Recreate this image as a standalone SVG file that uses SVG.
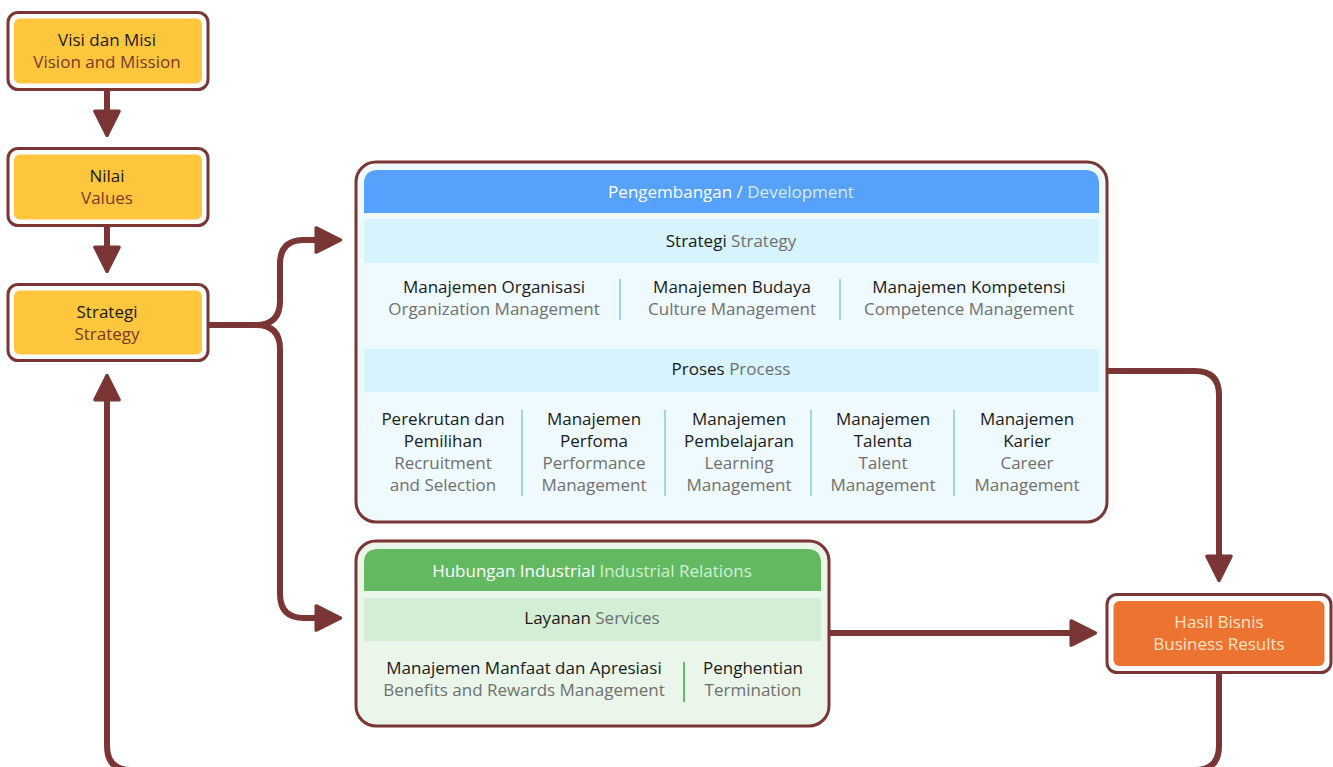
<svg xmlns="http://www.w3.org/2000/svg" width="1333" height="767" viewBox="0 0 1333 767">
<defs>
<marker id="ah" viewBox="0 0 10 10" refX="2" refY="5" markerWidth="4.6" markerHeight="4.6" orient="auto" markerUnits="strokeWidth">
<path d="M0.6,0.6 L9.4,5 L0.6,9.4 Z" fill="#7a3535" stroke="#7a3535" stroke-width="1.2" stroke-linejoin="round"/>
</marker>
<style>
text{font-family:"Open Sans","Noto Sans","Liberation Sans",sans-serif;font-size:17px;text-anchor:middle}
.k{fill:#1a1a1a}
.g{fill:#707070}
.br{fill:#7a3a2a}
.w{fill:#ffffff}
.conn{fill:none;stroke:#7a3535;stroke-width:6}
.outer{fill:#ffffff;stroke:#7a3535;stroke-width:3}
.yel{fill:#fdc63d}
.divb{stroke:#9fd4ea;stroke-width:2}
.divg{stroke:#62b962;stroke-width:2}
</style>
</defs>
<rect width="1333" height="767" fill="#ffffff"/>
<g id="connectors">
<path class="conn" d="M107,89 V115" marker-end="url(#ah)"/>
<path class="conn" d="M107,225 V251" marker-end="url(#ah)"/>
<path class="conn" d="M208,325 H256 Q280,325 280,301 V264 Q280,240 304,240 H320" marker-end="url(#ah)"/>
<path class="conn" d="M256,325 Q280,325 280,349 V594 Q280,618 304,618 H320" marker-end="url(#ah)"/>
<path class="conn" d="M1108,371 H1195 Q1219,371 1219,395 V560" marker-end="url(#ah)"/>
<path class="conn" d="M830,633 H1075" marker-end="url(#ah)"/>
<path class="conn" d="M1219,672 V746 Q1219,770 1195,770 H131 Q107,770 107,746 V396" marker-end="url(#ah)"/>
</g>
<g id="visi">
<rect class="outer" x="8" y="12.5" width="200" height="77" rx="10"/>
<rect class="yel" x="14" y="18.5" width="188" height="65" rx="6"/>
<text x="107" y="46" class="k">Visi dan Misi</text>
<text x="107" y="68" class="br">Vision and Mission</text>
</g>
<g id="nilai">
<rect class="outer" x="8" y="148.5" width="200" height="77" rx="10"/>
<rect class="yel" x="14" y="154.5" width="188" height="65" rx="6"/>
<text x="107" y="182" class="k">Nilai</text>
<text x="107" y="204" class="br">Values</text>
</g>
<g id="strategi">
<rect class="outer" x="8" y="284.5" width="200" height="76" rx="10"/>
<rect class="yel" x="14" y="290.5" width="188" height="64" rx="6"/>
<text x="107" y="318" class="k">Strategi</text>
<text x="107" y="340" class="br">Strategy</text>
</g>
<g id="development">
<rect x="356" y="162" width="751" height="360" rx="20" fill="#effafe" stroke="#7a3535" stroke-width="3"/>
<path d="M364,213 V184 Q364,170 378,170 H1085 Q1099,170 1099,184 V213 Z" fill="#55a1fb"/>
<text x="731" y="198"><tspan class="w">Pengembangan / </tspan><tspan fill="#d6ebff">Development</tspan></text>
<rect x="364" y="219" width="735" height="44" fill="#d7f3fd"/>
<text x="731" y="247"><tspan class="k">Strategi </tspan><tspan class="g">Strategy</tspan></text>
<text x="494" y="293" class="k">Manajemen Organisasi</text>
<text x="494" y="315" class="g">Organization Management</text>
<line class="divb" x1="620" y1="279" x2="620" y2="320"/>
<text x="732" y="293" class="k">Manajemen Budaya</text>
<text x="732" y="315" class="g">Culture Management</text>
<line class="divb" x1="840" y1="279" x2="840" y2="320"/>
<text x="969" y="293" class="k">Manajemen Kompetensi</text>
<text x="969" y="315" class="g">Competence Management</text>
<rect x="364" y="349" width="735" height="43" fill="#d7f3fd"/>
<text x="731" y="375"><tspan class="k">Proses </tspan><tspan class="g">Process</tspan></text>
<text x="443" y="425" class="k">Perekrutan dan</text>
<text x="443" y="447" class="k">Pemilihan</text>
<text x="443" y="469" class="g">Recruitment</text>
<text x="443" y="491" class="g">and Selection</text>
<line class="divb" x1="522" y1="410" x2="522" y2="496"/>
<text x="594" y="425" class="k">Manajemen</text>
<text x="594" y="447" class="k">Perfoma</text>
<text x="594" y="469" class="g">Performance</text>
<text x="594" y="491" class="g">Management</text>
<line class="divb" x1="665" y1="410" x2="665" y2="496"/>
<text x="739" y="425" class="k">Manajemen</text>
<text x="739" y="447" class="k">Pembelajaran</text>
<text x="739" y="469" class="g">Learning</text>
<text x="739" y="491" class="g">Management</text>
<line class="divb" x1="811" y1="410" x2="811" y2="496"/>
<text x="883" y="425" class="k">Manajemen</text>
<text x="883" y="447" class="k">Talenta</text>
<text x="883" y="469" class="g">Talent</text>
<text x="883" y="491" class="g">Management</text>
<line class="divb" x1="954" y1="410" x2="954" y2="496"/>
<text x="1027" y="425" class="k">Manajemen</text>
<text x="1027" y="447" class="k">Karier</text>
<text x="1027" y="469" class="g">Career</text>
<text x="1027" y="491" class="g">Management</text>
</g>
<g id="industrial">
<rect x="356" y="541" width="473" height="185" rx="20" fill="#e9f6e9" stroke="#7a3535" stroke-width="3"/>
<path d="M364,591 V563 Q364,549 378,549 H807 Q821,549 821,563 V591 Z" fill="#62b962"/>
<text x="592" y="577"><tspan class="w">Hubungan Industrial </tspan><tspan fill="#d3f0d0">Industrial Relations</tspan></text>
<rect x="364" y="598" width="457" height="43" fill="#d3eed5"/>
<text x="592" y="624"><tspan class="k">Layanan </tspan><tspan class="g">Services</tspan></text>
<text x="524" y="674" class="k">Manajemen Manfaat dan Apresiasi</text>
<text x="524" y="696" class="g">Benefits and Rewards Management</text>
<line class="divg" x1="684" y1="662" x2="684" y2="702"/>
<text x="753" y="674" class="k">Penghentian</text>
<text x="753" y="696" class="g">Termination</text>
</g>
<g id="hasil">
<rect class="outer" x="1107" y="594.5" width="224" height="78" rx="10"/>
<rect x="1113.5" y="601" width="211" height="65" rx="6" fill="#ed7330"/>
<text x="1219" y="628" fill="#fde4c6">Hasil Bisnis</text>
<text x="1219" y="650" fill="#fde4c6">Business Results</text>
</g>
</svg>
